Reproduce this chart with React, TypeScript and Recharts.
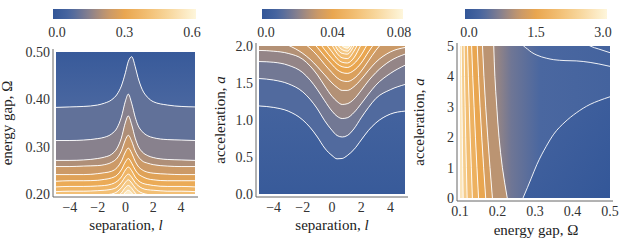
import React from 'react';
import { ComposedChart, Area, Line, XAxis, YAxis, ReferenceArea } from 'recharts';

// left panel: separation l vs energy gap Ω
const sepX1 = [-5, -4, -3, -2, -1.5, -1, -0.6, -0.3, 0, 0.2, 0.45, 0.7, 0.9, 1.2, 1.6, 2, 3, 4, 5];
const gapContours1 = [
  [0.383, 0.384, 0.385, 0.388, 0.392, 0.399, 0.411, 0.428, 0.457, 0.48, 0.49, 0.469, 0.446, 0.421, 0.404, 0.395, 0.388, 0.385, 0.384],
  [0.313, 0.313, 0.314, 0.317, 0.32, 0.327, 0.34, 0.362, 0.397, 0.411, 0.391, 0.362, 0.345, 0.332, 0.323, 0.319, 0.315, 0.314, 0.313],
  [0.271, 0.271, 0.272, 0.275, 0.278, 0.284, 0.297, 0.318, 0.352, 0.365, 0.346, 0.318, 0.302, 0.289, 0.281, 0.277, 0.273, 0.272, 0.271],
  [0.258, 0.258, 0.259, 0.26, 0.262, 0.267, 0.276, 0.291, 0.315, 0.324, 0.311, 0.291, 0.28, 0.27, 0.265, 0.262, 0.259, 0.258, 0.258],
  [0.241, 0.241, 0.241, 0.243, 0.245, 0.248, 0.256, 0.269, 0.289, 0.297, 0.286, 0.269, 0.259, 0.251, 0.246, 0.244, 0.242, 0.241, 0.241],
  [0.227, 0.228, 0.228, 0.229, 0.231, 0.234, 0.24, 0.251, 0.268, 0.275, 0.265, 0.251, 0.243, 0.237, 0.232, 0.23, 0.228, 0.228, 0.228],
  [0.215, 0.216, 0.216, 0.217, 0.218, 0.221, 0.227, 0.236, 0.251, 0.257, 0.249, 0.236, 0.229, 0.223, 0.22, 0.218, 0.216, 0.216, 0.215],
  [0.205, 0.206, 0.206, 0.207, 0.208, 0.21, 0.215, 0.224, 0.237, 0.242, 0.235, 0.224, 0.218, 0.212, 0.209, 0.208, 0.206, 0.206, 0.205],
  [0.195, 0.195, 0.196, 0.197, 0.198, 0.2, 0.205, 0.213, 0.225, 0.23, 0.223, 0.213, 0.207, 0.202, 0.199, 0.198, 0.196, 0.196, 0.195],
  [0.186, 0.186, 0.187, 0.188, 0.189, 0.191, 0.195, 0.202, 0.214, 0.218, 0.212, 0.202, 0.197, 0.192, 0.19, 0.188, 0.187, 0.187, 0.186],
  [0.178, 0.178, 0.179, 0.179, 0.18, 0.182, 0.186, 0.193, 0.204, 0.208, 0.202, 0.193, 0.188, 0.184, 0.181, 0.18, 0.179, 0.179, 0.178],
];
const gapLevels1 = [0.08, 0.125, 0.18, 0.22, 0.26, 0.3, 0.34, 0.38, 0.42, 0.46, 0.52];

// middle panel: separation l vs acceleration a
const sepX2 = [-5, -4, -3, -2, -1.5, -1, -0.5, 0, 0.35, 0.7, 1.05, 1.5, 2, 2.5, 3, 4, 5];
const accContours2 = [
  [1.19, 1.17, 1.12, 1.0, 0.9, 0.77, 0.62, 0.52, 0.475, 0.48, 0.52, 0.6, 0.73, 0.86, 0.96, 1.08, 1.12],
  [1.56, 1.54, 1.49, 1.38, 1.28, 1.15, 0.99, 0.86, 0.79, 0.77, 0.79, 0.88, 1.03, 1.17, 1.29, 1.41, 1.48],
  [1.79, 1.78, 1.74, 1.64, 1.54, 1.41, 1.26, 1.12, 1.05, 1.02, 1.03, 1.1, 1.22, 1.35, 1.47, 1.63, 1.74],
  [1.94, 1.93, 1.9, 1.82, 1.73, 1.61, 1.46, 1.32, 1.25, 1.21, 1.22, 1.28, 1.4, 1.53, 1.64, 1.8, 1.89],
  [2.12, 2.08, 2.01, 1.9, 1.82, 1.72, 1.61, 1.5, 1.44, 1.4, 1.4, 1.45, 1.55, 1.67, 1.78, 1.92, 1.98],
  [2.45, 2.35, 2.2, 2.05, 1.97, 1.87, 1.75, 1.64, 1.57, 1.53, 1.52, 1.56, 1.66, 1.8, 1.94, 2.15, 2.3],
  [2.7, 2.55, 2.38, 2.18, 2.09, 1.98, 1.86, 1.75, 1.68, 1.64, 1.63, 1.67, 1.77, 1.92, 2.06, 2.3, 2.5],
  [2.9, 2.75, 2.55, 2.3, 2.2, 2.08, 1.95, 1.83, 1.76, 1.72, 1.71, 1.76, 1.88, 2.05, 2.2, 2.45, 2.65],
  [3.05, 2.9, 2.7, 2.45, 2.33, 2.2, 2.05, 1.92, 1.83, 1.78, 1.77, 1.84, 2.02, 2.18, 2.33, 2.6, 2.8],
  [3.2, 3.05, 2.85, 2.6, 2.47, 2.33, 2.16, 2.01, 1.9, 1.84, 1.83, 1.93, 2.12, 2.3, 2.45, 2.75, 2.95],
  [3.35, 3.2, 3.0, 2.75, 2.6, 2.46, 2.28, 2.1, 1.96, 1.9, 1.89, 2.0, 2.22, 2.4, 2.57, 2.9, 3.1],
  [3.5, 3.35, 3.15, 2.9, 2.74, 2.58, 2.4, 2.2, 2.03, 1.95, 1.93, 2.06, 2.3, 2.5, 2.68, 3.02, 3.25],
  [3.65, 3.5, 3.3, 3.05, 2.88, 2.7, 2.5, 2.3, 2.1, 2.0, 1.97, 2.12, 2.38, 2.6, 2.8, 3.15, 3.4],
];
const accLevels2 = [0.008, 0.0135, 0.0195, 0.025, 0.0295, 0.034, 0.038, 0.042, 0.046, 0.05, 0.055, 0.06, 0.066];

// right panel: energy gap Ω vs acceleration a
const accY3 = [0, 1, 2, 3, 4, 5];
const gapContours3 = [
  [0.1035, 0.1042, 0.1052, 0.1062, 0.1072, 0.1085],
  [0.111, 0.1122, 0.1137, 0.1152, 0.117, 0.119],
  [0.12, 0.1222, 0.1247, 0.1272, 0.1302, 0.133],
  [0.131, 0.134, 0.1375, 0.1412, 0.1452, 0.1495],
  [0.146, 0.1495, 0.1535, 0.158, 0.163, 0.1685],
  [0.16, 0.1638, 0.1685, 0.174, 0.18, 0.1865],
  [0.19, 0.193, 0.198, 0.204, 0.213, 0.226],
];
const gapLevels3 = [2.4, 2.1, 1.85, 1.6, 1.4, 1.2, 0.95];
// contours of the blue region, as a over Ω
const gapLow3 = [0.268, 0.28, 0.29, 0.305, 0.33, 0.35, 0.38, 0.41, 0.447, 0.47, 0.5];
const accLow3 = [0, 0.35, 0.65, 1.1, 1.7, 2.1, 2.5, 2.8, 3.08, 3.2, 3.33];
const gapMid3 = [0.26, 0.268, 0.28, 0.29, 0.305, 0.33, 0.35, 0.38, 0.41, 0.447, 0.47, 0.5];
const accMid3 = [5.15, 5.02, 4.9, 4.8, 4.7, 4.6, 4.55, 4.52, 4.51, 4.46, 4.41, 4.33];
const gapTop3 = [0.44, 0.447, 0.47, 0.5];
const accTop3 = [5.05, 5.0, 4.9, 4.78];

// tick labels
const sepTicks = [-4, -2, 0, 2, 4];
const gapTicks1 = [0.2, 0.3, 0.4, 0.5];
const accTicks2 = [0, 0.5, 1, 1.5, 2];
const gapTicks3 = [0.1, 0.2, 0.3, 0.4, 0.5];
const accTicks3 = [0, 1, 2, 3, 4, 5];
const barTicks1 = [0, 0.3, 0.6];
const barTicks2 = [0, 0.04, 0.08];
const barTicks3 = [0, 1.5, 3];

const FONT = "'Liberation Serif', 'Times New Roman', serif";
const TEXT = '#333';
const FRAME = '#666';
const PAD = 3;

const RAMP: [number, number[]][] = [
  [0, [50, 86, 152]],
  [0.12, [74, 103, 160]],
  [0.25, [134, 128, 142]],
  [0.38, [198, 152, 108]],
  [0.5, [233, 166, 80]],
  [0.66, [242, 190, 115]],
  [0.82, [248, 216, 160]],
  [1, [254, 246, 220]],
];

function colorAt(t: number) {
  const v = Math.max(0, Math.min(1, t));
  for (let i = 1; i < RAMP.length; i++) {
    const [t0, c0] = RAMP[i - 1];
    const [t1, c1] = RAMP[i];
    if (v <= t1) {
      const f = (v - t0) / (t1 - t0);
      return `rgb(${c0.map((x, j) => Math.round(x + (c1[j] - x) * f)).join(',')})`;
    }
  }
  return 'rgb(254,246,220)';
}

const steps = (a: number, b: number, s: number) => {
  const out: number[] = [];
  for (let v = a; v <= b + s / 2; v += s) out.push(Math.round(v * 1e6) / 1e6);
  return out;
};

type Row = Record<string, any>;
const toRows = (key: string, xs: number[], cs: number[][]) =>
  xs.map((x, i) => {
    const r: Row = { [key]: x };
    cs.forEach((c, k) => (r['c' + k] = c[i]));
    return r;
  });

const rows1 = toRows('x', sepX1, gapContours1);
const rows2 = toRows('x', sepX2, accContours2);
const rows3 = toRows('a', accY3, gapContours3);
const rowsLow3 = toRows('g', gapLow3, [accLow3]);
const rowsMid3 = toRows('g', gapMid3, [accMid3]);
const rowsTop3 = toRows('g', gapTop3, [accTop3]);

type Band = { range: (r: Row) => any; fill: string };

function bandsFor(n: number, levels: number[], vmax: number, edgeA: number, fillA: string, edgeB: number, fillB: string): Band[] {
  const out: Band[] = [{ range: (r) => [edgeA, r.c0], fill: fillA }];
  for (let k = 0; k < n - 1; k++) {
    out.push({ range: (r) => [r['c' + k], r['c' + (k + 1)]], fill: colorAt((levels[k] + levels[k + 1]) / 2 / vmax) });
  }
  out.push({ range: (r) => [r['c' + (n - 1)], edgeB], fill: fillB });
  return out;
}

const bands1 = bandsFor(11, gapLevels1, 0.6, 0.5, 'url(#p1top)', 0.15, colorAt(0.93));
const bands2 = bandsFor(13, accLevels2, 0.08, -0.2, 'url(#p2bot)', 4, colorAt(0.95));
const bands3 = bandsFor(7, gapLevels3, 3, 0.09, colorAt(0.9), 0.5, 'url(#p3right)');
const bandLow3: Band[] = [{ range: (r) => [-0.5, r.c0], fill: 'url(#p3low)' }];

type Box = { x: number; y: number; w: number; h: number };

function ContourChart({ box, layout, xDom, yDom, rows, catKey, n, bands }: any) {
  const vertical = layout === 'vertical';
  return (
    <div style={{ position: 'absolute', left: box.x, top: box.y }}>
      <ComposedChart width={box.w} height={box.h} data={rows} layout={layout} margin={{ top: 0, right: 0, bottom: 0, left: 0 }}>
        <XAxis hide type="number" dataKey={vertical ? undefined : catKey} domain={xDom} allowDataOverflow />
        <YAxis hide type="number" dataKey={vertical ? catKey : undefined} domain={yDom} allowDataOverflow />
        {bands.map((b: Band, i: number) => (
          <Area key={'b' + i} type="monotone" dataKey={b.range} stroke="none" fill={b.fill} fillOpacity={1}
            dot={false} activeDot={false} isAnimationActive={false} />
        ))}
        {Array.from({ length: n }, (_, k) => (
          <Line key={'c' + k} type="monotone" dataKey={'c' + k} stroke="#fff" strokeOpacity={0.9} strokeWidth={1}
            dot={false} activeDot={false} isAnimationActive={false} />
        ))}
      </ComposedChart>
    </div>
  );
}

const padDomain = (d: number[], len: number) => {
  const p = (PAD * (d[1] - d[0])) / len;
  return [d[0] - p, d[1] + p];
};

function FrameChart({ p }: { p: any }) {
  const f: Box = p.fill;
  const fr = { x: f.x - PAD, y: f.y - PAD, w: f.w + 2 * PAD, h: f.h + 2 * PAD };
  const xd = padDomain(p.xDom, f.w);
  const yd = padDomain(p.yDom, f.h);
  const MT = 10, MR = 12, XH = 24;
  const font = { fontSize: 14, fill: TEXT, fontFamily: FONT };
  const ends = [{ x: xd[0], y: yd[0] }, { x: xd[1], y: yd[1] }];
  const ax = { type: 'number' as const, allowDataOverflow: true, interval: 0 as const };
  const inner = (size: number, line: boolean) => ({ tick: false, tickSize: size, tickLine: { stroke: FRAME }, axisLine: line ? { stroke: FRAME } : false });
  return (
    <div style={{ position: 'absolute', left: fr.x - p.yw, top: fr.y - MT }}>
      <ComposedChart width={p.yw + fr.w + MR} height={MT + fr.h + XH} data={ends} margin={{ top: MT, right: MR, bottom: 0, left: 0 }}>
        <XAxis xAxisId="b" dataKey="x" {...ax} domain={xd} ticks={p.xTicks} tickFormatter={p.xFmt} height={XH} tickLine={false}
          tickSize={0} tickMargin={5} axisLine={{ stroke: FRAME }} tick={font} />
        <YAxis yAxisId="l" dataKey="y" {...ax} domain={yd} ticks={p.yTicks} tickFormatter={p.yFmt} width={p.yw} tickLine={false}
          tickSize={0} tickMargin={3} axisLine={{ stroke: FRAME }} tick={font} />
        <XAxis xAxisId="bM" dataKey="x" orientation="bottom" mirror height={0} {...ax} domain={xd} ticks={p.xTicks} {...inner(4, false)} />
        <XAxis xAxisId="tM" dataKey="x" orientation="top" mirror height={0} {...ax} domain={xd} ticks={p.xTicks} {...inner(4, true)} />
        <YAxis yAxisId="lM" dataKey="y" orientation="left" mirror width={0} {...ax} domain={yd} ticks={p.yTicks} {...inner(4, false)} />
        <YAxis yAxisId="rM" dataKey="y" orientation="right" mirror width={0} {...ax} domain={yd} ticks={p.yTicks} {...inner(4, true)} />
        <XAxis xAxisId="bm" dataKey="x" orientation="bottom" mirror height={0} {...ax} domain={xd} ticks={p.xMinor} {...inner(2, false)} />
        <XAxis xAxisId="tm" dataKey="x" orientation="top" mirror height={0} {...ax} domain={xd} ticks={p.xMinor} {...inner(2, false)} />
        <YAxis yAxisId="lm" dataKey="y" orientation="left" mirror width={0} {...ax} domain={yd} ticks={p.yMinor} {...inner(2, false)} />
        <YAxis yAxisId="rm" dataKey="y" orientation="right" mirror width={0} {...ax} domain={yd} ticks={p.yMinor} {...inner(2, false)} />
      </ComposedChart>
    </div>
  );
}

function ColorBar({ box, ticks, fmt, vmax }: { box: Box; ticks: number[]; fmt: (v: number) => string; vmax: number }) {
  const pad = (4 * vmax) / (box.w - 8);
  const dom = [-pad, vmax + pad];
  const ends = [{ v: dom[0], y: 0 }, { v: dom[1], y: 1 }];
  const M = 16;
  return (
    <div style={{ position: 'absolute', left: box.x - M, top: box.y }}>
      <ComposedChart width={box.w + 2 * M} height={box.h + 22} data={ends} margin={{ top: 0, right: M, bottom: 0, left: M }}>
        <XAxis dataKey="v" type="number" domain={dom} allowDataOverflow ticks={ticks} interval={0} tickFormatter={fmt} height={22}
          tickLine={false} axisLine={false} tickSize={0} tickMargin={8} tick={{ fontSize: 14, fill: TEXT, fontFamily: FONT }} />
        <YAxis hide dataKey="y" type="number" domain={[0, 1]} allowDataOverflow />
        <ReferenceArea x1={dom[0]} x2={dom[1]} y1={0} y2={1} fill="url(#cbar)" fillOpacity={1} stroke="none" />
      </ComposedChart>
    </div>
  );
}

const fmtSep = (v: number) => (v < 0 ? '\u2212' + Math.abs(v) : String(v));

const P1 = {
  fill: { x: 56, y: 52, w: 139, h: 142 }, xDom: [-5, 5], yDom: [0.2, 0.5], yw: 53,
  xTicks: sepTicks, yTicks: gapTicks1, xMinor: steps(-5, 5, 0.5), yMinor: steps(0.2, 0.5, 0.02),
  xFmt: fmtSep, yFmt: (v: number) => v.toFixed(2),
};
const P2 = {
  fill: { x: 259, y: 46, w: 146, h: 148 }, xDom: [-5, 5], yDom: [0, 2], yw: 48,
  xTicks: sepTicks, yTicks: accTicks2, xMinor: steps(-5, 5, 0.5), yMinor: steps(0, 2, 0.1),
  xFmt: fmtSep, yFmt: (v: number) => v.toFixed(1),
};
const P3 = {
  fill: { x: 460, y: 46, w: 150, h: 152 }, xDom: [0.1, 0.5], yDom: [0, 5], yw: 47,
  xTicks: gapTicks3, yTicks: accTicks3, xMinor: steps(0.1, 0.5, 0.02), yMinor: steps(0, 5, 0.2),
  xFmt: (v: number) => v.toFixed(1), yFmt: (v: number) => String(v),
};

function Grad({ id, x2, y2, stops }: { id: string; x2: number; y2: number; stops: [number, number][] }) {
  return (
    <linearGradient id={id} x1="0" y1="0" x2={x2} y2={y2}>
      {stops.map(([o, t], i) => <stop key={i} offset={o} stopColor={colorAt(t)} />)}
    </linearGradient>
  );
}

const titleStyle = { fontFamily: FONT, fontSize: 15, fill: '#222' };

export default function App() {
  const cbStops = steps(0, 1, 0.05).map((t) => [t, t] as [number, number]);
  return (
    <div style={{ position: 'absolute', left: 0, top: 0, width: 623, height: 241, overflow: 'hidden', background: '#fff' }}>
      <svg width={0} height={0} style={{ position: 'absolute' }}>
        <defs>
          <Grad id="cbar" x2={1} y2={0} stops={cbStops} />
          <Grad id="p1top" x2={0} y2={1} stops={[[0, 0.03], [1, 0.12]]} />
          <Grad id="p2bot" x2={0} y2={1} stops={[[0, 0.09], [1, 0.02]]} />
          <Grad id="p3right" x2={1} y2={0} stops={[[0, 0.3], [0.15, 0.2], [0.4, 0.12], [1, 0.09]]} />
          <Grad id="p3low" x2={1} y2={1} stops={[[0, 0.1], [1, 0.0]]} />
        </defs>
      </svg>

      <ColorBar box={{ x: 53, y: 9, w: 143, h: 10 }} ticks={barTicks1} vmax={0.6} fmt={(v) => v.toFixed(1)} />
      <ColorBar box={{ x: 262, y: 9, w: 141, h: 10 }} ticks={barTicks2} vmax={0.08} fmt={(v) => (v === 0 ? '0.0' : v.toFixed(2))} />
      <ColorBar box={{ x: 465, y: 9, w: 142, h: 10 }} ticks={barTicks3} vmax={3} fmt={(v) => v.toFixed(1)} />

      <ContourChart box={P1.fill} layout="horizontal" xDom={P1.xDom} yDom={P1.yDom} rows={rows1} catKey="x" n={11} bands={bands1} />
      <ContourChart box={P2.fill} layout="horizontal" xDom={P2.xDom} yDom={P2.yDom} rows={rows2} catKey="x" n={13} bands={bands2} />
      <ContourChart box={P3.fill} layout="vertical" xDom={P3.xDom} yDom={P3.yDom} rows={rows3} catKey="a" n={7} bands={bands3} />
      <ContourChart box={P3.fill} layout="horizontal" xDom={P3.xDom} yDom={P3.yDom} rows={rowsLow3} catKey="g" n={1} bands={bandLow3} />
      <ContourChart box={P3.fill} layout="horizontal" xDom={P3.xDom} yDom={P3.yDom} rows={rowsMid3} catKey="g" n={1} bands={[]} />
      <ContourChart box={P3.fill} layout="horizontal" xDom={P3.xDom} yDom={P3.yDom} rows={rowsTop3} catKey="g" n={1} bands={[]} />

      <FrameChart p={P1} />
      <FrameChart p={P2} />
      <FrameChart p={P3} />

      <svg width={623} height={241} style={{ position: 'absolute', left: 0, top: 0, pointerEvents: 'none' }}>
        <text x={12} y={123} transform="rotate(-90 12 123)" textAnchor="middle" {...titleStyle}>energy gap, Ω</text>
        <text x={126} y={230} textAnchor="middle" {...titleStyle}>separation, <tspan fontStyle="italic">l</tspan></text>
        <text x={225} y={120} transform="rotate(-90 225 120)" textAnchor="middle" {...titleStyle}>acceleration, <tspan fontStyle="italic">a</tspan></text>
        <text x={332} y={230} textAnchor="middle" {...titleStyle}>separation, <tspan fontStyle="italic">l</tspan></text>
        <text x={424} y={122} transform="rotate(-90 424 122)" textAnchor="middle" {...titleStyle}>acceleration, <tspan fontStyle="italic">a</tspan></text>
        <text x={536} y={235} textAnchor="middle" {...titleStyle}>energy gap, Ω</text>
      </svg>
    </div>
  );
}
